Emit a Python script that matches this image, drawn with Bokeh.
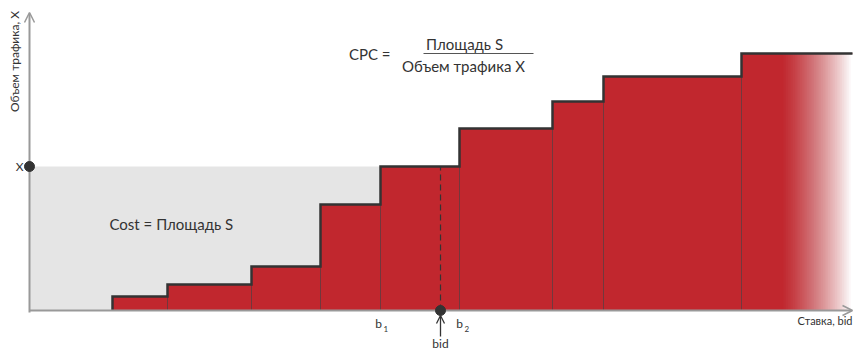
import numpy as np
from bokeh.plotting import figure
from bokeh.models import Range1d, Arrow, OpenHead
from bokeh.core.properties import value
from bokeh.embed import file_html
from bokeh.resources import INLINE

# ---- data ----
bid_edges = [8.3, 13.8, 22.2, 29.1, 35.1, 43.0, 52.3, 57.4, 71.2, 82.3]
traffic = [1.4, 2.6, 4.4, 10.6, 14.4, 18.2, 20.9, 23.4, 25.7]
bid = 41.1
traffic_x = 14.4
b1 = 35.1
b2 = 43.0
fade_start = 75.3

RED = "#c1272e"
DARK = "#333333"
GREY_AX = "#999999"
FONT = value("Lato")

p = figure(width=862, height=358, output_backend="svg", toolbar_location=None,
           x_range=Range1d(-2.9, 83.3), y_range=Range1d(-4.8, 31.0),
           min_border=0, background_fill_color="white")
p.axis.visible = False
p.grid.visible = False
p.outline_line_color = None

# grey cost area
p.quad(left=[0], right=[bid], bottom=[0], top=[traffic_x],
       fill_color="#e5e5e5", line_color=None)

# bars
lefts = bid_edges[:-1]
rights = bid_edges[1:]
p.quad(left=lefts, right=rights, bottom=[0] * len(lefts), top=traffic,
       fill_color=RED, line_color=None)

# fading tail of last bar: cumulative white overlays
n = 40
xs = np.linspace(fade_start, bid_edges[-1], n + 1)[:-1]
w = np.linspace(0.0, 1.0, n + 1)[1:] ** 1.2
prev = np.concatenate([[0.0], w[:-1]])
a = 1.0 - (1.0 - w) / (1.0 - prev)
a = np.clip(a, 0, 1)
p.quad(left=xs, right=[bid_edges[-1] + 0.5] * n, bottom=[-0.05] * n, top=[traffic[-1] - 0.05] * n,
       fill_color="white", fill_alpha=a, line_color=None)

# thin dividers
p.segment(x0=lefts, y0=[0] * len(lefts), x1=lefts, y1=traffic,
          line_color="#5a3035", line_width=1, line_alpha=0.8)

# step outline
sx, sy = [bid_edges[0]], [0]
for i, h in enumerate(traffic):
    sx += [bid_edges[i], bid_edges[i + 1]]
    sy += [h, h]
p.line(sx, sy, line_color=DARK, line_width=2.5, line_join="miter")

# dashed bid line
p.segment(x0=[bid], y0=[0], x1=[bid], y1=[traffic_x], line_color=DARK,
          line_width=1.2, line_dash="6 4")

# axes
p.add_layout(Arrow(end=OpenHead(size=10, line_color=GREY_AX, line_width=1.5),
                   x_start=0, y_start=0, x_end=bid_edges[-1], y_end=0,
                   line_color=GREY_AX, line_width=2))
p.add_layout(Arrow(end=OpenHead(size=10, line_color=GREY_AX, line_width=1.5),
                   x_start=0, y_start=-0.2, x_end=0, y_end=29.8,
                   line_color=GREY_AX, line_width=2))

# bid arrow
p.add_layout(Arrow(end=OpenHead(size=8, line_color=DARK, line_width=1.3),
                   x_start=bid, y_start=-2.6, x_end=bid, y_end=-0.5,
                   line_color=DARK, line_width=1.3))

# points
p.scatter([0, bid], [traffic_x, 0], size=10, color=DARK, level="overlay")

# texts
def txt(x, y, t, size, align="left", angle=0.0):
    p.text([x], [y], text=[t], text_font=FONT, text_font_size=size,
           text_color=DARK, text_align=align, text_baseline="middle", angle=angle)

txt(-1.5, 24.9, "Объем трафика, X", "12px", "center", np.pi / 2)
txt(-0.6, traffic_x, "X", "12px", "right")
txt(8.0, 8.7, "Cost = Площадь S", "15px")
txt(36.1, 25.7, "CPC =", "15px", "right")
txt(43.5, 26.7, "Площадь S", "15px", "center")
txt(43.4, 24.5, "Объем трафика X", "15px", "center")
p.segment(x0=[39.4], y0=[25.7], x1=[50.4], y1=[25.7], line_color="#555555", line_width=1)
txt(bid_edges[-1], -1.0, "Ставка, bid", "11px", "right")
txt(b1 - 0.2, -1.3, "b", "12px", "center")
txt(b1 + 0.3, -1.85, "1", "8px", "left")
txt(b2 + 0.0, -1.3, "b", "12px", "center")
txt(b2 + 0.5, -1.85, "2", "8px", "left")
txt(bid, -3.3, "bid", "12px", "center")

open("out.html", "w").write(file_html(p, INLINE))
